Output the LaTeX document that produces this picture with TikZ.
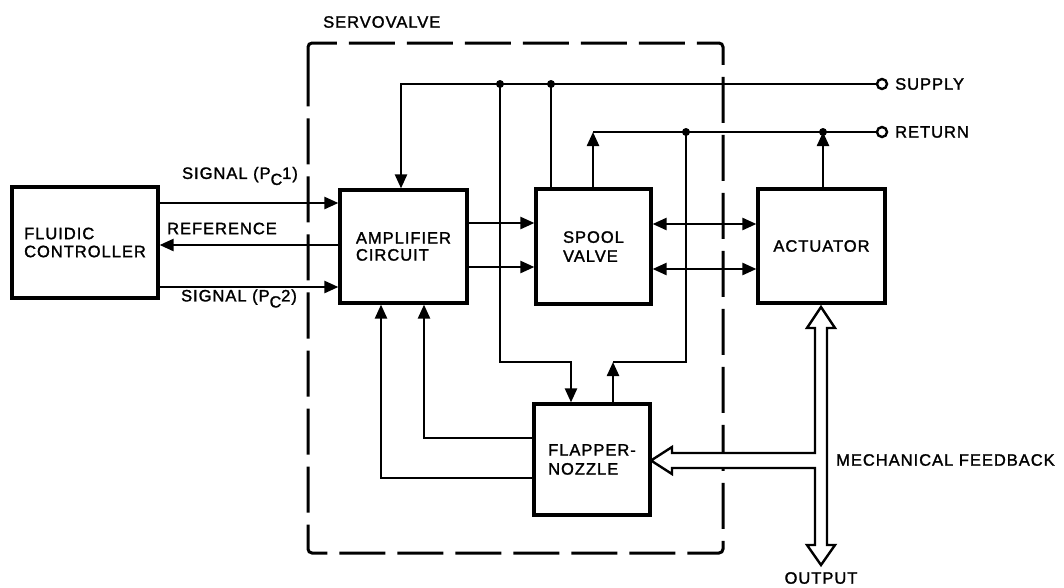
\documentclass[tikz,border=0pt]{standalone}
\usepackage{fontspec}
\setmainfont{Liberation Sans}[LetterSpace=6,FakeBold=1.6]
\usetikzlibrary{arrows.meta}
\begin{document}
\begin{tikzpicture}[x=1pt,y=-1pt,
  font=\fontsize{16.5}{19}\selectfont,
  box/.style={draw,line width=3.2pt,inner sep=0pt,align=left},
  ln/.style={line width=2.4pt},
  tip/.tip={Triangle[length=14pt,width=12pt]},
  arr/.style={ln,-tip},
  arrb/.style={ln,tip-tip},
  lbl/.style={inner sep=0pt},
  term/.style={draw,circle,line width=2.4pt,minimum size=10pt,inner sep=0pt},
  dot/.style={fill,circle,minimum size=8pt,inner sep=0pt}]
\useasboundingbox (0,0) rectangle (1064,587);

% servovalve dashed box
\draw[line width=3pt,dash pattern=on 46pt off 12pt,rounded corners=4pt]
  (308,66) -- (308,43) -- (723,43) -- (723,553) -- (308,553) -- cycle;
\node[lbl,anchor=west] (sv) at (323,22) {SERVOVALVE};

% boxes
\node[box,minimum width=146pt,minimum height=111pt] (fc) at (85,242.5)
  {FLUIDIC\\[-1pt]CONTROLLER};
\node[box,minimum width=127pt,minimum height=113pt] (amp) at (403.5,246.5)
  {AMPLIFIER\\[-2pt]CIRCUIT};
\node[box,minimum width=115pt,minimum height=115pt] (sp) at (593.5,246.5)
  {SPOOL\\VALVE};
\node[box,minimum width=127pt,minimum height=114pt] (act) at (821.5,246)
  {ACTUATOR};
\node[box,minimum width=116pt,minimum height=111pt] (fn) at (592,459.5)
  {FLAPPER-\\NOZZLE};

% row coordinates
\coordinate (s1) at (0,203);
\coordinate (rf) at (0,245);
\coordinate (s2) at (0,287);
\coordinate (a1) at (0,223);
\coordinate (a2) at (0,267);
\coordinate (b1) at (0,224);
\coordinate (b2) at (0,269);

% controller signals
\draw[arr] (fc.east |- s1) -- (amp.west |- s1);
\draw[arr] (amp.west |- rf) -- (fc.east |- rf);
\draw[arr] (fc.east |- s2) -- (amp.west |- s2);
\node[lbl] (ls1) at (240,176) {SIGNAL (P\raisebox{-6pt}{\fontsize{16}{16}\selectfont C}1)};
\node[lbl] (lrf) at (222,228.5) {REFERENCE};
\node[lbl] (ls2) at (239,298.5) {SIGNAL (P\raisebox{-6pt}{\fontsize{16}{16}\selectfont C}2)};

% amplifier -> spool
\draw[arr] (amp.east |- a1) -- (sp.west |- a1);
\draw[arr] (amp.east |- a2) -- (sp.west |- a2);
% spool <-> actuator
\draw[arrb] (sp.east |- b1) -- (act.west |- b1);
\draw[arrb] (sp.east |- b2) -- (act.west |- b2);

% supply line
\node[term] (sup) at (882,84) {};
\node[lbl,anchor=west] (lsup) at (895,84) {SUPPLY};
\coordinate (c1) at (401,84);
\node[dot] (j1) at (500,84) {};
\node[dot] (j2) at (551,84) {};
\draw[arr] (sup.west) -- (c1) -- (c1 |- amp.north);
\draw[ln] (j2.center) -- (j2 |- sp.north);
\coordinate (c2) at (500,362);
\coordinate (c3) at (571,362);
\draw[arr] (j1.center) -- (c2) -- (c3) -- (c3 |- fn.north);

% return line
\node[term] (ret) at (882,132) {};
\node[lbl,anchor=west] (lret) at (895,132) {RETURN};
\coordinate (c4) at (593,132);
\node[dot] (j3) at (686,132) {};
\node[dot] (j4) at (823,132) {};
\draw[ln] (ret.west) -- (c4);
\draw[arr] (c4 |- sp.north) -- (c4);
\draw[arr] (j4 |- act.north) -- (j4.center);
\coordinate (c5) at (686,362);
\coordinate (c6) at (613,362);
\draw[ln] (j3.center) -- (c5) -- (c6);
\draw[arr] (c6 |- fn.north) -- (c6);

% flapper-nozzle -> amplifier
\coordinate (c7) at (424,438);
\coordinate (c8) at (381,478);
\draw[arr] (fn.west |- c7) -- (c7) -- (c7 |- amp.south);
\draw[arr] (fn.west |- c8) -- (c8) -- (c8 |- amp.south);

% hollow mechanical arrows
\draw[line width=2.4pt,fill=white,line join=miter]
  (821,307) -- (835,328) -- (827,328) -- (827,545) -- (835,545) -- (821,565)
  -- (807,545) -- (815,545) -- (815,468) -- (672,468) -- (672,474) -- (651,460.5)
  -- (672,447) -- (672,453) -- (815,453) -- (815,328) -- (807,328) -- cycle;
\node[lbl,anchor=west] (lmf) at (836,460) {MECHANICAL FEEDBACK};
\node[lbl] (lout) at (821,578) {OUTPUT};
\end{tikzpicture}
\end{document}
